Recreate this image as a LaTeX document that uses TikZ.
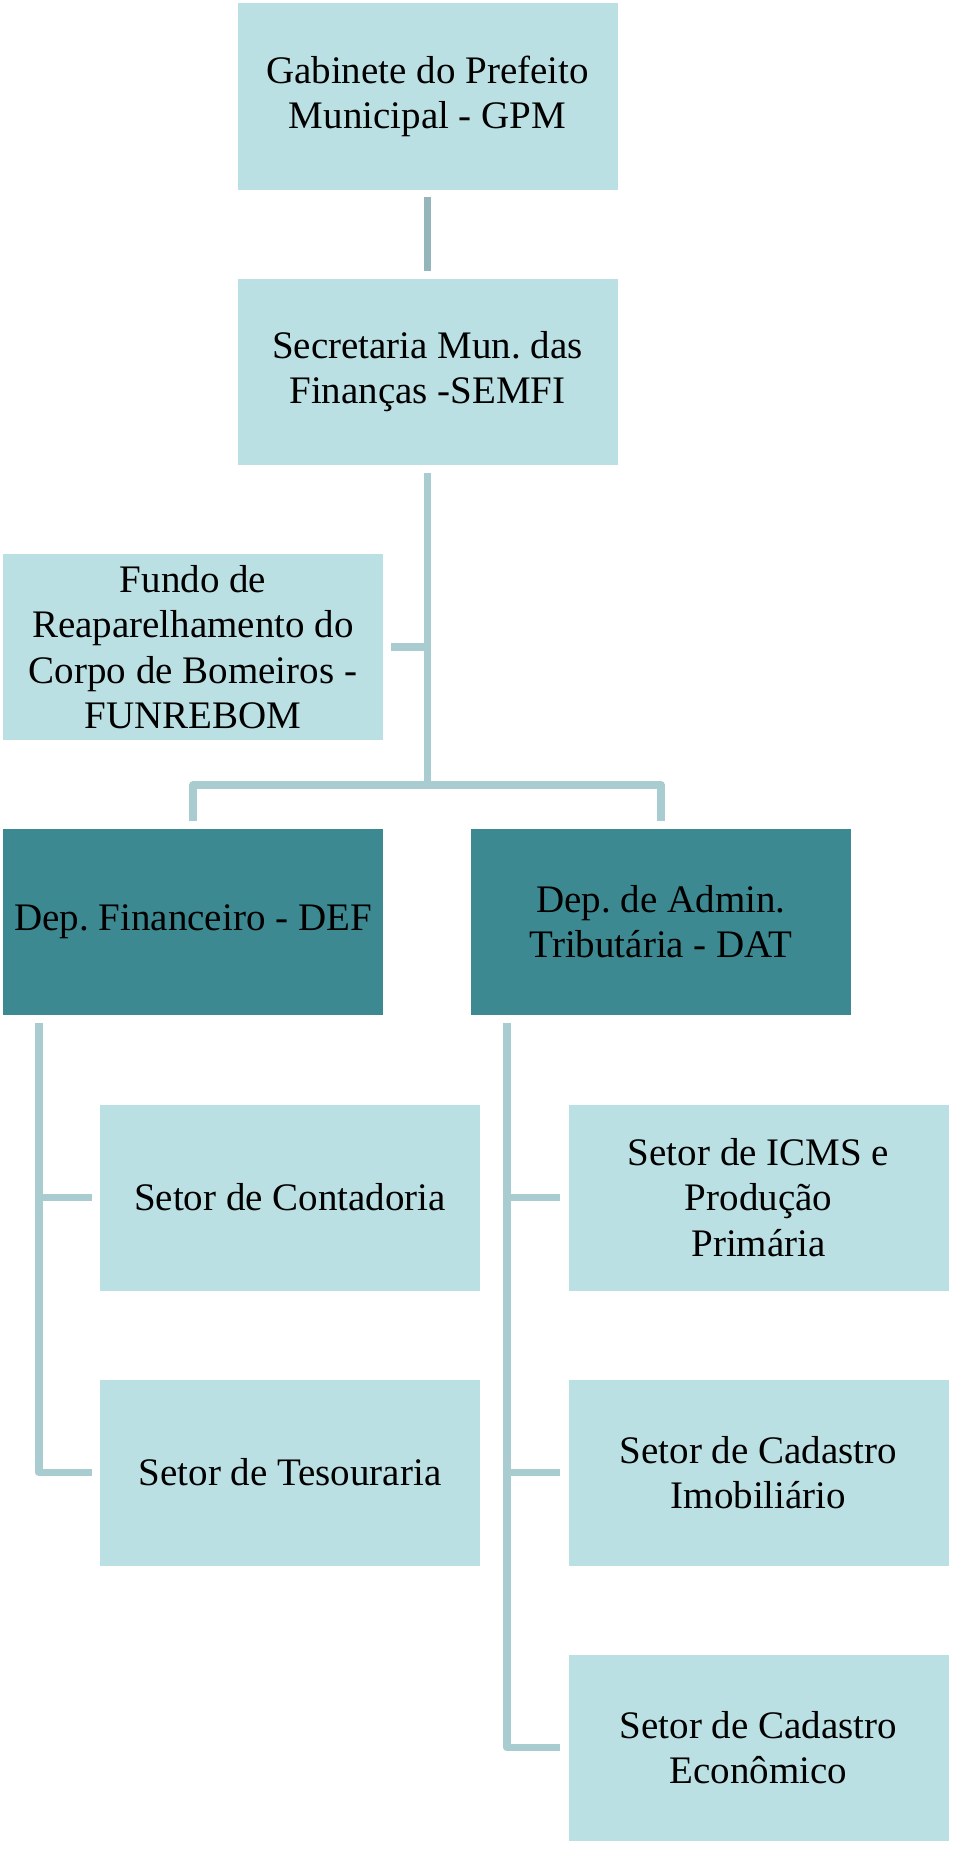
\documentclass[tikz,border=0pt]{standalone}
\usepackage{fontspec}
\setmainfont{Liberation Serif}
\usepackage{xcolor}
\usepackage{tikz}
\usetikzlibrary{positioning}
\definecolor{boxlight}{RGB}{187,224,227}
\definecolor{boxdark}{RGB}{61,137,145}
\definecolor{linklight}{RGB}{168,204,208}
\definecolor{linkdark}{RGB}{148,182,186}
\frenchspacing

\begin{document}
\begin{tikzpicture}[x=1pt, y=-1pt,
    unit/.style={rectangle, fill=boxlight, minimum width=380pt, minimum height=186pt,
      align=center, inner sep=0pt, font=\fontsize{39}{45.5}\selectfont},
    dept/.style={unit, fill=boxdark},
    link/.style={draw=linklight, line width=7.5pt, line join=round}]
  \useasboundingbox (0,0) rectangle (960,1849);
  % top of the chart
  \node[unit] (gpm) at (427.5,96.5) {Gabinete do Prefeito\\Municipal - GPM};
  \node[unit] (semfi) at (427.5,371.5) {Secretaria Mun. das\\Finanças -SEMFI};
  \node[unit] (fund) at (193,647) {Fundo de\\Reaparelhamento do\\Corpo de Bomeiros -\\FUNREBOM};
  % departments
  \node[dept] (def) at (193,921.5) {Dep. Financeiro - DEF};
  \node[dept] (dat) at (661,921.5) {Dep. de Admin.\\Tributária - DAT};
  % sectors
  \node[unit] (cont) at (290,1197.5) {Setor de Contadoria};
  \node[unit] (tes) at (290,1472.5) {Setor de Tesouraria};
  \node[unit] (icms) at (758.5,1197.5) {Setor de ICMS e\\Produção\\Primária};
  \node[unit] (imob) at (758.5,1472.5) {Setor de Cadastro\\Imobiliário};
  \node[unit] (econ) at (758.5,1747.5) {Setor de Cadastro\\Econômico};
  % connectors
  \coordinate (bar) at (427.5,785);
  \coordinate (deftop) at (39,1022.5);
  \coordinate (dattop) at (507,1022.5);
  \draw[link, draw=linkdark] ([yshift=-7pt]gpm.south) -- ([yshift=7pt]semfi.north);
  \draw[link] ([yshift=-8pt]semfi.south) -- (bar);
  \draw[link] ([xshift=8pt]fund.east) -- (fund.east -| bar);
  \draw[link] ([yshift=7pt]def.north) |- (bar) -| ([yshift=7pt]dat.north);
  \draw[link] (deftop) |- ([xshift=-8pt]tes.west);
  \draw[link] ([xshift=-8pt]cont.west) -- (cont.west -| deftop);
  \draw[link] (dattop) |- ([xshift=-8pt]econ.west);
  \draw[link] ([xshift=-8pt]icms.west) -- (icms.west -| dattop);
  \draw[link] ([xshift=-8pt]imob.west) -- (imob.west -| dattop);
\end{tikzpicture}
\end{document}
